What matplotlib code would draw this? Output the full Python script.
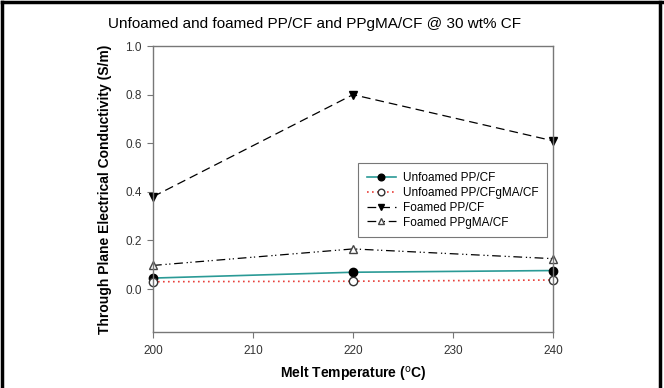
import matplotlib.pyplot as plt
from matplotlib.lines import Line2D

plt.rcParams["font.family"] = ["Liberation Sans", "DejaVu Sans"]

melt_temp_c = [200, 220, 240]

unfoamed_pp_cf = [0.045, 0.069, 0.076]
unfoamed_ppgma_cf = [0.030, 0.032, 0.037]
foamed_pp_cf = [0.38, 0.80, 0.61]
foamed_ppgma_cf = [0.097, 0.165, 0.125]

x_ticks = [200, 210, 220, 230, 240]
y_ticks = [0.0, 0.2, 0.4, 0.6, 0.8, 1.0]

fig = plt.figure(figsize=(6.64, 3.88), dpi=100)
ax = fig.add_axes([0.2304, 0.1443, 0.6024, 0.737])

ax.plot(melt_temp_c, unfoamed_pp_cf, color="#2a9a96", lw=1.2, clip_on=False,
        marker="o", ms=6, mfc="black", mec="black", label="Unfoamed PP/CF")
ax.plot(melt_temp_c, unfoamed_ppgma_cf, color="#e8403a", lw=1.2, ls=(0, (1, 2)),
        clip_on=False,
        marker="o", ms=6, mfc="white", mec="#333333", label="Unfoamed PP/CFgMA/CF")
ax.plot(melt_temp_c, foamed_pp_cf, color="black", lw=0.9, ls=(0, (7, 4)),
        clip_on=False,
        marker="v", ms=6, mfc="black", mec="black", label="Foamed PP/CF")
ax.plot(melt_temp_c, foamed_ppgma_cf, color="black", lw=0.9,
        ls=(0, (7, 3, 1, 2, 1, 3)), clip_on=False,
        marker="^", ms=6, mfc="white", mec="#444444", label="Foamed PPgMA/CF")

ax.set_xlim(200, 240)
ax.set_ylim(-0.177, 1.0)
ax.set_xticks(x_ticks)
ax.set_yticks(y_ticks)
ax.set_yticklabels([f"{v:.1f}" for v in y_ticks])

for s in ax.spines.values():
    s.set_color("#777777")
    s.set_linewidth(1.0)
ax.tick_params(direction="out", length=4, color="#777777", labelsize=8.5,
               labelcolor="#333333", pad=4)
ax.tick_params(axis="x", pad=5)

ax.set_xlabel("Melt Temperature ($^{\\mathrm{o}}$C)", fontsize=10, fontweight="bold",
              labelpad=6)
ax.set_ylabel("Through Plane Electrical Conductivity (S/m)", fontsize=10,
              fontweight="bold")
ax.yaxis.set_label_coords(-0.103, 0.5)

leg = ax.legend(loc="upper right", bbox_to_anchor=(1.0, 0.61), fontsize=8.5,
                frameon=True, fancybox=False, edgecolor="#555555",
                handlelength=2.5, borderpad=0.7, labelspacing=0.25,
                markerscale=0.8, handletextpad=0.6)
leg.get_frame().set_linewidth(0.8)

fig.text(0.473, 0.937, "Unfoamed and foamed PP/CF and PPgMA/CF @ 30 wt% CF",
         ha="center", va="center", fontsize=11)

# outer frame (top, left, right)
for xs, ys in [([0.003, 0.997], [0.995, 0.995]), ([0.003, 0.003], [0.0, 0.995]),
               ([0.994, 0.994], [0.0, 0.995])]:
    fig.add_artist(Line2D(xs, ys, color="black", lw=2.5, transform=fig.transFigure))

fig.savefig("out.png", dpi=100)
